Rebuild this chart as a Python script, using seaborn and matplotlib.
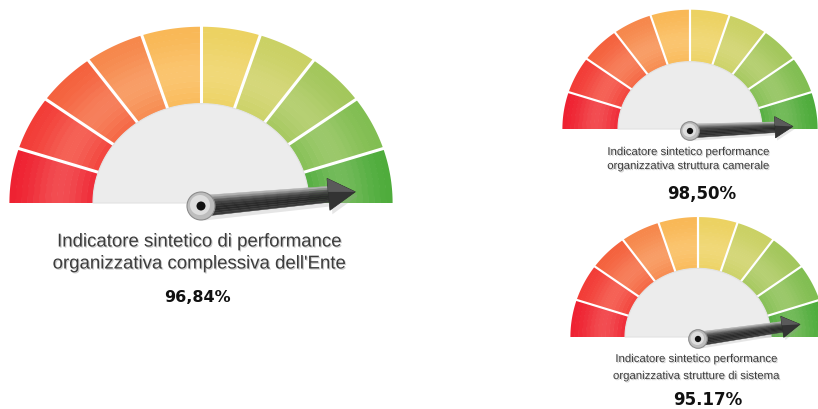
import numpy as np
import matplotlib
matplotlib.use("Agg")
import matplotlib.pyplot as plt
import matplotlib.patheffects as pe
from matplotlib.patches import Polygon, Circle
from matplotlib.colors import to_rgb
import seaborn as sns

# ---------------- data ----------------
gauge_titles = [
    ["Indicatore sintetico di performance", "organizzativa complessiva dell'Ente"],
    ["Indicatore sintetico performance", "organizzativa struttura camerale"],
    ["Indicatore sintetico performance", "organizzativa strutture di sistema"],
]
gauge_values = [96.84, 98.50, 95.17]
gauge_value_labels = ["96,84%", "98,50%", "95.17%"]
n_segments = 10

# ---------------- style ----------------
sns.set_theme(style="white")
plt.rcParams["font.family"] = ["Liberation Sans", "DejaVu Sans"]

anchor_colors = ["#ee1f2f", "#f23a35", "#f4603c", "#f6864a", "#f9b855",
                 "#ecd160", "#c9d063", "#a2c65a", "#80bd50", "#4cab3a"]
seg_palette = sns.blend_palette(anchor_colors, n_segments)

# layout (pixel space): cx, cy, outer R, inner r, vertical squash, scale
layouts = [
    dict(cx=201, cy=204, R=191, r=108, ay=0.92, s=1.0,
         ty=[243, 265], vy=298, vx=197, tfs=13.4, vfs=11.5),
    dict(cx=690, cy=130, R=127, r=72, ay=0.935, s=0.665,
         ty=[153, 167], vy=194, vx=702, tfs=8.2, vfs=12),
    dict(cx=698, cy=338, R=127, r=73, ay=0.94, s=0.665,
         ty=[360, 377], vy=400, vx=708, tfs=8.2, vfs=12),
]

W, H = 818, 410
fig = plt.figure(figsize=(W / 100, H / 100), dpi=100)
ax = fig.add_axes([0, 0, 1, 1])
ax.set_xlim(0, W)
ax.set_ylim(H, 0)
ax.axis("off")
fig.patch.set_facecolor("white")


def mix(c, w, f):
    c = np.array(to_rgb(c)); w = np.array(to_rgb(w))
    return tuple(c * (1 - f) + w * f)


def pt(cx, cy, rad, ay, th):
    return cx + rad * np.cos(th), cy - rad * ay * np.sin(th)


def draw_gauge(L, value):
    cx, cy, R, r, ay, s = L["cx"], L["cy"], L["R"], L["r"], L["ay"], L["s"]
    seg = np.pi / n_segments
    nb = 14
    for i in range(n_segments):
        th0 = np.pi - i * seg
        th1 = np.pi - (i + 1) * seg
        ths = np.linspace(th0, th1, 20)
        base = seg_palette[i]
        for b in range(nb):
            r0 = r + (R - r) * b / nb
            r1 = r + (R - r) * (b + 1) / nb + 0.6
            t = (b + 0.5) / nb
            light = 0.22 * np.exp(-((t - 0.4) / 0.35) ** 2)
            col = mix(base, "#fff2cc", light)
            xo, yo = pt(cx, cy, r1, ay, ths)
            xi, yi = pt(cx, cy, r0, ay, ths[::-1])
            ax.add_patch(Polygon(np.column_stack([np.r_[xo, xi], np.r_[yo, yi]]),
                                 closed=True, facecolor=col, edgecolor="none", zorder=2))
    # separators
    for i in range(1, n_segments):
        th = np.pi - i * seg
        x0, y0 = pt(cx, cy, r - 2, ay, th)
        x1, y1 = pt(cx, cy, R + 2, ay, th)
        ax.plot([x0, x1], [y0, y1], color="white", lw=1.9 * s + 0.3,
                solid_capstyle="butt", zorder=3)
    # inner grey semicircle
    ths = np.linspace(np.pi, 0, 120)
    xi, yi = pt(cx, cy, r, ay, ths)
    ax.add_patch(Polygon(np.column_stack([xi, yi]), closed=True,
                         facecolor="#ececec", edgecolor="#e2e2e2", lw=0.8, zorder=4))
    # needle
    hx, hy = cx, cy + 3 * s
    ang = np.pi * (1 - value / 100.0)
    d = np.array([np.cos(ang), -ay * np.sin(ang)])
    d /= np.linalg.norm(d)
    n = np.array([d[1], -d[0]])
    if n[1] > 0:
        n = -n
    Ltip = 155 * s
    Lhead = 27 * s
    w0, w1, wh = 10.5 * s, 8 * s, 16 * s
    base_c = np.array([hx, hy])
    hb = base_c + d * (Ltip - Lhead)
    tip = base_c + d * Ltip
    sh = np.array([2.5 * s, 4 * s])
    shaft_poly = np.array([base_c + n * w0, hb + n * w1, hb + n * wh, tip,
                           hb - n * wh, hb - n * w1, base_c - n * w0])
    ax.add_patch(Polygon(shaft_poly + sh, closed=True, facecolor="#9a9a9a",
                         alpha=0.25, edgecolor="none", zorder=5))
    shades = ["#b0b0b0", "#8a8a8a", "#5e5e5e", "#444444", "#353535",
              "#2c2c2c", "#2a2a2a", "#303030", "#3a3a3a"]
    k = len(shades)
    for j, c in enumerate(shades):
        a0 = 1 - 2 * j / k
        a1 = 1 - 2 * (j + 1) / k
        poly = np.array([base_c + n * w0 * a0, hb + n * w1 * a0,
                         hb + n * w1 * a1, base_c + n * w0 * a1])
        ax.add_patch(Polygon(poly, closed=True, facecolor=c, edgecolor=c,
                             lw=0.3, zorder=6))
    head = np.array([hb + n * wh, tip, hb - n * wh])
    ax.add_patch(Polygon(head, closed=True, facecolor="#333333",
                         edgecolor="#2a2a2a", lw=0.5, zorder=6))
    head_hl = np.array([hb + n * wh, tip, hb + n * wh * 0.15])
    ax.add_patch(Polygon(head_hl, closed=True, facecolor="#5a5a5a",
                         edgecolor="none", zorder=6))
    # hub
    ax.add_patch(Circle((hx, hy), 14 * s, facecolor="#bdbdbd",
                        edgecolor="#8c8c8c", lw=0.8, zorder=7))
    ax.add_patch(Circle((hx - 1 * s, hy - 1 * s), 10 * s, facecolor="#dedede",
                        edgecolor="none", zorder=7))
    ax.add_patch(Circle((hx, hy), 4 * s + 0.5, facecolor="#111111",
                        edgecolor="none", zorder=8))


shadow = [pe.withSimplePatchShadow(offset=(0.8, -0.8), shadow_rgbFace="#999999", alpha=0.5)]
for L, title, v, vl in zip(layouts, gauge_titles, gauge_values, gauge_value_labels):
    draw_gauge(L, v)
    for line, y in zip(title, L["ty"]):
        ax.text(L["cx"] - 2 * L["s"], y, line, ha="center", va="center",
                fontsize=L["tfs"], color="#3c3c3c", path_effects=shadow, zorder=9)
    ax.text(L["vx"], L["vy"], vl, ha="center", va="center", fontsize=L["vfs"],
            fontweight="bold", color="#111111", family="DejaVu Sans", zorder=9)

fig.savefig("out.png", dpi=100, facecolor="white")
